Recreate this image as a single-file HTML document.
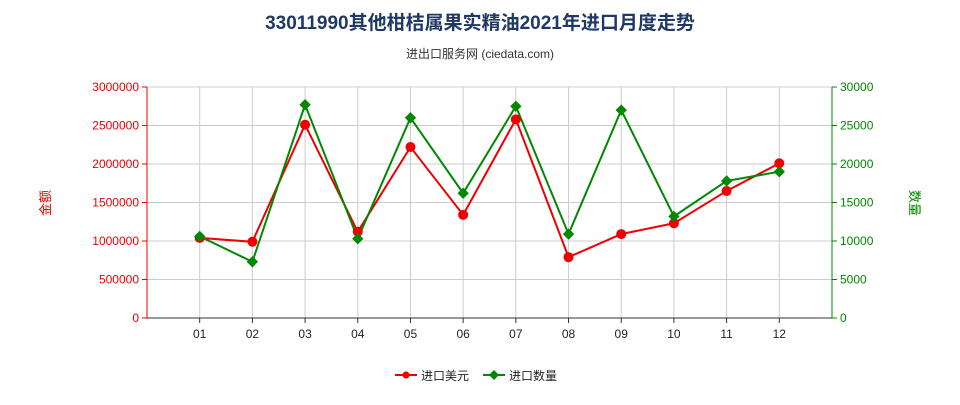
<!DOCTYPE html>
<html><head><meta charset="utf-8"><style>
body{margin:0;background:#fff;font-family:"Liberation Sans","Noto Sans CJK SC",sans-serif;}
svg text{font-family:"Liberation Sans","Noto Sans CJK SC",sans-serif;}
</style></head><body>
<svg id="chart" width="960" height="400" xmlns="http://www.w3.org/2000/svg">
<text x="480" y="29" text-anchor="middle" font-size="19" font-weight="bold" fill="#1f3864">33011990其他柑桔属果实精油2021年进口月度走势</text>
<text x="480" y="58" text-anchor="middle" font-size="12" fill="#333">进出口服务网 (ciedata.com)</text>
<text transform="translate(50,203) rotate(-90)" text-anchor="middle" font-size="13" fill="#e00">金额</text>
<text transform="translate(910,203) rotate(90)" text-anchor="middle" font-size="13" fill="#080">数量</text>
<g id="grid"></g><g id="axes"></g><g id="series"></g>
<g>
<g><line x1="395" y1="375" x2="417" y2="375" stroke="#e00" stroke-width="2"/><circle cx="406" cy="375" r="3.5" fill="#e00"/><text x="421" y="380" font-size="12" fill="#222">进口美元</text></g>
<g><line x1="483" y1="375" x2="505" y2="375" stroke="#080" stroke-width="2"/><rect x="490.5" y="371.5" width="7" height="7" fill="#080" transform="rotate(45 494 375)"/><text x="509" y="380" font-size="12" fill="#222">进口数量</text></g>
</g>
</svg>
<script>
const categories=["01","02","03","04","05","06","07","08","09","10","11","12"];
const amountValues=[1040000,990000,2510000,1120000,2220000,1340000,2580000,790000,1090000,1230000,1650000,2010000];
const quantityValues=[10600,7300,27700,10300,26000,16200,27500,10900,27000,13200,17800,19000];
const leftTicks=[0,500000,1000000,1500000,2000000,2500000,3000000];
const rightTicks=[0,5000,10000,15000,20000,25000,30000];
const NS="http://www.w3.org/2000/svg";
const X0=147,X1=832,Y0=318,Y1=87;
const band=(X1-X0)/(categories.length+1);
const xs=i=>X0+band*(i+1);
const yL=v=>Y0-(v/3000000)*(Y0-Y1);
const yR=v=>Y0-(v/30000)*(Y0-Y1);
function mk(tag,attrs,parent,text){const e=document.createElementNS(NS,tag);for(const k in attrs)e.setAttribute(k,attrs[k]);if(text!==undefined)e.textContent=text;parent.appendChild(e);return e;}
const grid=document.getElementById('grid'),axes=document.getElementById('axes'),ser=document.getElementById('series');
leftTicks.forEach((t,i)=>{
 const g=mk('line',{x1:X0,x2:X1,y1:yL(t),y2:yL(t),stroke:'#ccc','stroke-width':1},grid);
 
 
 mk('line',{x1:X0-5,x2:X0,y1:yL(t),y2:yL(t),stroke:'#e00'},axes);
 const lt=mk('text',{x:X0-8,y:yL(t)+4,'text-anchor':'end','font-size':12,fill:'#e00'},axes,String(t));
 
 
});
rightTicks.forEach(t=>{
 mk('line',{x1:X1,x2:X1+5,y1:yR(t),y2:yR(t),stroke:'#080'},axes);
 const rt=mk('text',{x:X1+8,y:yR(t)+4,'font-size':12,fill:'#080'},axes,String(t));
 
 
});
categories.forEach((c,i)=>{
 const v=mk('line',{x1:xs(i),x2:xs(i),y1:Y1,y2:Y0,stroke:'#ccc'},grid);
 
 
 mk('line',{x1:xs(i),x2:xs(i),y1:Y0,y2:Y0+5,stroke:'#333'},axes);
 const t=mk('text',{x:xs(i),y:Y0+20,'text-anchor':'middle','font-size':12,fill:'#222'},axes,c);
 
 
});
mk('line',{x1:X1,x2:X1,y1:Y1,y2:Y0,stroke:'#ccc'},grid);
const la=mk('line',{x1:X0,x2:X0,y1:Y1,y2:Y0,stroke:'#e00'},axes);


const ra=mk('line',{x1:X1,x2:X1,y1:Y1,y2:Y0,stroke:'#080'},axes);


const xa=mk('line',{x1:X0,x2:X1,y1:Y0,y2:Y0,stroke:'#333'},axes);


const pa=mk('polyline',{points:amountValues.map((v,i)=>xs(i)+','+yL(v)).join(' '),fill:'none',stroke:'#e00','stroke-width':2},ser);


const pq=mk('polyline',{points:quantityValues.map((v,i)=>xs(i)+','+yR(v)).join(' '),fill:'none',stroke:'#080','stroke-width':2},ser);


amountValues.forEach((v,i)=>{
 const c=mk('circle',{cx:xs(i),cy:yL(v),r:5,fill:'#e00'},ser);
 
 
});
quantityValues.forEach((v,i)=>{
 const x=xs(i),y=yR(v);
 const d=mk('rect',{x:x-4,y:y-4,width:8,height:8,fill:'#080',transform:`rotate(45 ${x} ${y})`},ser);
 
 
});
</script>
</body></html>
